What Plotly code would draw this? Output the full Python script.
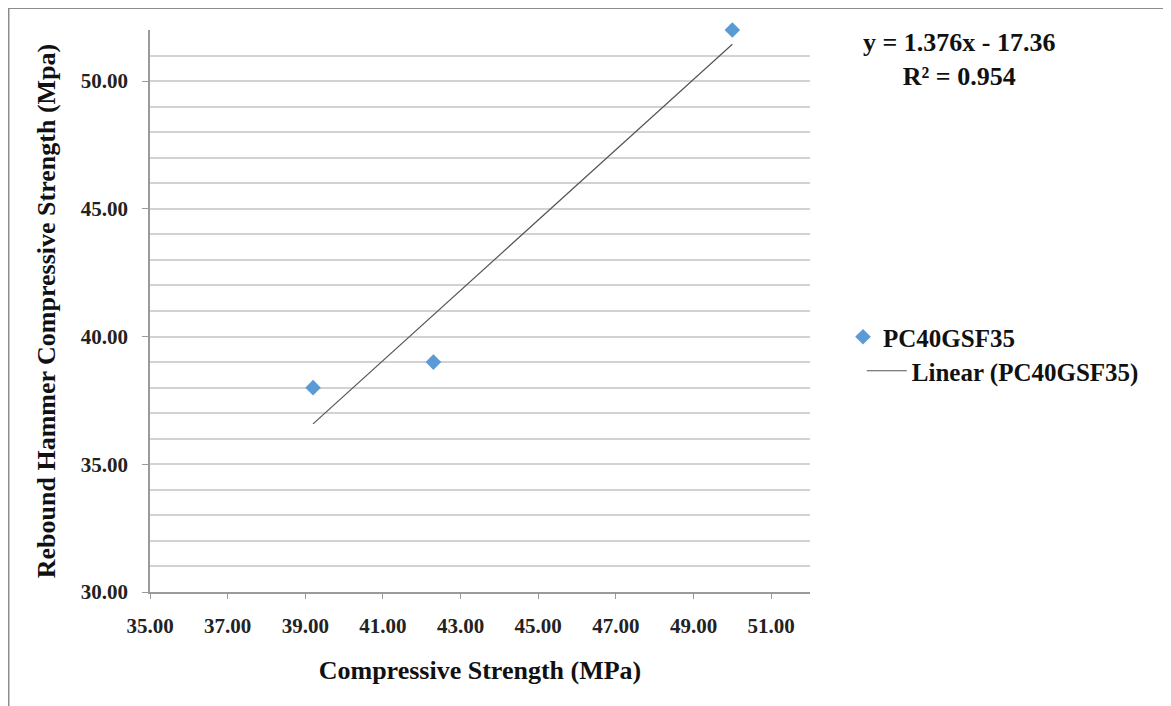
import plotly.graph_objects as go

# data
SERIES = 'PC40GSF35'
compressive = [39.2, 42.3, 50.0]       # MPa
rebound = [38.0, 39.0, 52.0]           # Mpa
slope = 1.376
intercept = -17.36
r_squared = 0.954
x_ticks = [35, 37, 39, 41, 43, 45, 47, 49, 51]
y_ticks = [30, 35, 40, 45, 50]

FONT = 'Liberation Serif'
GRID = '#d2d2d2'
AXIS = '#9a9a9a'

trend_x = [min(compressive), max(compressive)]
trend_y = [slope * x + intercept for x in trend_x]

fig = go.Figure()
fig.add_trace(
    go.Scatter(
        x=compressive,
        y=rebound,
        mode='markers',
        name=f'<b>{SERIES}</b>',
        marker=dict(symbol='diamond', size=12, color='#5B9BD5'),
        cliponaxis=False,
        legend='legend'
    )
)
fig.add_trace(
    go.Scatter(
        x=trend_x,
        y=trend_y,
        mode='lines',
        name=f'<b>Linear ({SERIES})</b>',
        line=dict(color='#555555', width=1.2),
        legend='legend2'
    )
)

legend_font = dict(family=FONT, size=25, color='#111111')
tick_font = dict(family=FONT, size=21, color='#222222')
fig.update_layout(
    width=1171,
    height=706,
    margin=dict(l=142, r=369, t=22, b=122),
    paper_bgcolor='white',
    plot_bgcolor='white',
    font=dict(family=FONT, size=18, color='#222222'),
    legend=dict(
        x=1.05, y=0.4537, xanchor='left', yanchor='middle',
        font=legend_font, bgcolor='rgba(0,0,0,0)'
    ),
    legend2=dict(
        x=1.0785, y=0.3932, xanchor='left', yanchor='middle',
        font=legend_font, bgcolor='rgba(0,0,0,0)', itemwidth=40
    ),
    xaxis=dict(
        range=[35, 52],
        tickvals=x_ticks,
        ticktext=[f'<b>{v:.2f}</b>' for v in x_ticks],
        showgrid=False,
        zeroline=False,
        showline=True,
        linecolor=AXIS,
        linewidth=1.5,
        ticks='outside',
        ticklen=5,
        tickcolor=AXIS,
        ticklabelstandoff=9,
        tickfont=tick_font,
        title=dict(
            text='<b>Compressive Strength (MPa)</b>',
            font=dict(family=FONT, size=26, color='#111111'),
            standoff=24
        )
    ),
    yaxis=dict(
        range=[30, 52],
        tickvals=y_ticks,
        ticktext=[f'<b>{v:.2f}</b>' for v in y_ticks],
        showgrid=True,
        gridcolor=GRID,
        gridwidth=1.5,
        minor=dict(dtick=1, tick0=30, showgrid=True, gridcolor=GRID, gridwidth=1.5),
        zeroline=False,
        showline=True,
        linecolor=AXIS,
        linewidth=1.5,
        ticks='outside',
        ticklen=6,
        tickcolor=AXIS,
        ticklabelstandoff=10,
        tickfont=tick_font,
        title=dict(
            text='<b>Rebound Hammer Compressive Strength (Mpa)</b>',
            font=dict(family=FONT, size=26, color='#111111'),
            standoff=18
        )
    ),
    showlegend=True
)

# trendline equation
fig.add_annotation(
    x=1.2258, y=0.948, xref='paper', yref='paper',
    xanchor='center', yanchor='middle', align='center', showarrow=False,
    text=f'<b>y = {slope}x - {abs(intercept)}<br>R² = {r_squared}</b>',
    font=dict(family=FONT, size=26, color='#111111')
)

# chart area border (top and left edges visible)
fig.add_shape(type='line', xref='paper', yref='paper',
              x0=-0.2144, x1=1.56, y0=1.039, y1=1.039,
              line=dict(color='#8c8c8c', width=2))
fig.add_shape(type='line', xref='paper', yref='paper',
              x0=-0.2144, x1=-0.2144, y0=1.039, y1=-0.23,
              line=dict(color='#8c8c8c', width=2))

fig.write_html('out.html')
